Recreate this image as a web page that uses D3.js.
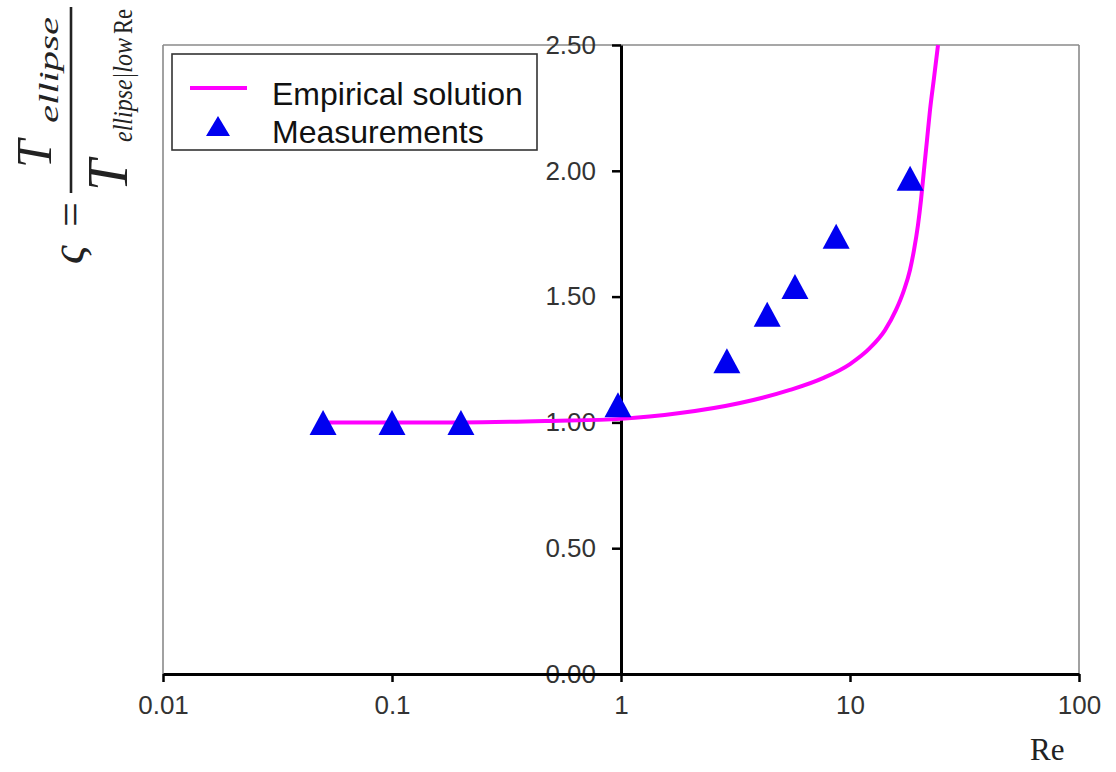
<!DOCTYPE html>
<html>
<head>
<meta charset="utf-8">
<script src="https://cdn.jsdelivr.net/npm/d3@7"></script>
<style>
  html, body { margin: 0; padding: 0; background: #fff; }
  svg { display: block; }
</style>
</head>
<body>
<svg id="chart" width="1116" height="772"></svg>
<script>
// Reynolds number ticks (log axis) and their labels
const xTickValues = [0.01, 0.1, 1, 10, 100];
const xTickLabels = ["0.01", "0.1", "1", "10", "100"];
// Normalised torque ticks
const yTickValues = [0, 0.5, 1, 1.5, 2, 2.5];
const yTickLabels = ["0.00", "0.50", "1.00", "1.50", "2.00", "2.50"];

// Empirical solution curve (Re, zeta)
const curveRe   = [0.05, 0.2, 0.5, 1, 1.81, 3.31, 5.47, 7.62, 10.0, 12.23, 14.22, 15.88, 17.21, 18.28, 19.03, 19.81, 20.42, 21.04, 21.69, 22.36, 23.27, 24.23];
const curveZeta = [1.00, 1.00, 1.006, 1.014, 1.037, 1.077, 1.129, 1.176, 1.232, 1.296, 1.367, 1.447, 1.526, 1.606, 1.685, 1.785, 1.884, 2.003, 2.122, 2.242, 2.369, 2.50];

// Measured points (Re, zeta)
const measRe   = [0.05, 0.1, 0.2, 0.97, 2.9, 4.35, 5.75, 8.7, 18.3];
const measZeta = [1.00, 1.00, 1.00, 1.07, 1.245, 1.43, 1.54, 1.74, 1.97];

const svg = d3.select("#chart");

const x = d3.scaleLog().domain([0.01, 100]).range([163, 1079]);
const y = d3.scaleLinear().domain([0, 2.5]).range([674, 45]);

// plot-area frame (gray)
const frame = svg.append("g").attr("stroke", "#8a8a8a").attr("stroke-width", 1.6).attr("fill", "none");
frame.append("line").attr("x1", x(0.01)).attr("x2", x(100)).attr("y1", y(2.5)).attr("y2", y(2.5));
frame.append("line").attr("x1", x(0.01)).attr("x2", x(0.01)).attr("y1", y(2.5)).attr("y2", y(0));
frame.append("line").attr("x1", x(100)).attr("x2", x(100)).attr("y1", y(2.5)).attr("y2", y(0));

// y axis crosses at Re = 1
const yAxis = svg.append("g")
  .attr("transform", `translate(${x(1)},0)`)
  .call(d3.axisLeft(y).tickValues(yTickValues)
    .tickFormat((d, i) => yTickLabels[i]).tickSize(9).tickSizeOuter(0).tickPadding(16));
yAxis.select(".domain").attr("stroke", "#000").attr("stroke-width", 3);
yAxis.selectAll(".tick line").attr("stroke", "#000").attr("stroke-width", 2.5);
yAxis.selectAll(".tick text")
  .attr("font-family", "'Liberation Sans', Arial, sans-serif")
  .attr("font-size", 26).attr("fill", "#333");

// x axis at zeta = 0
const xAxis = svg.append("g")
  .attr("transform", `translate(0,${y(0)})`)
  .call(d3.axisBottom(x).tickValues(xTickValues)
    .tickFormat((d, i) => xTickLabels[i]).tickSize(8).tickSizeOuter(0).tickPadding(14));
xAxis.select(".domain").attr("stroke", "#000").attr("stroke-width", 3);
xAxis.selectAll(".tick line").attr("stroke", "#000").attr("stroke-width", 2.5);
xAxis.selectAll(".tick text")
  .attr("font-family", "'Liberation Sans', Arial, sans-serif")
  .attr("font-size", 26).attr("fill", "#333");

// empirical solution
const curveData = curveRe.map((r, i) => [r, curveZeta[i]]);
const line = d3.line().x(d => x(d[0])).y(d => y(d[1])).curve(d3.curveMonotoneX);
svg.append("path")
  .attr("d", line(curveData))
  .attr("fill", "none").attr("stroke", "#ff00ff").attr("stroke-width", 4);

// measurement triangles
const triW = 27, triH = 25;
const triPath = (cx, cy) => `M${cx},${cy - triH / 2}L${cx + triW / 2},${cy + triH / 2}L${cx - triW / 2},${cy + triH / 2}Z`;
svg.append("g").selectAll("path")
  .data(measRe.map((r, i) => [r, measZeta[i]]))
  .join("path")
  .attr("d", d => triPath(x(d[0]), y(d[1])))
  .attr("fill", "#0000f0");

// legend
const lg = svg.append("g");
lg.append("rect").attr("x", 172).attr("y", 54).attr("width", 365).attr("height", 96)
  .attr("fill", "#fff").attr("stroke", "#333").attr("stroke-width", 1.6);
lg.append("line").attr("x1", 190).attr("x2", 247).attr("y1", 88).attr("y2", 88)
  .attr("stroke", "#ff00ff").attr("stroke-width", 4);
lg.append("path").attr("d", `M218,116L230,136L206,136Z`).attr("fill", "#0000f0");
lg.append("text").attr("x", 272).attr("y", 105).text("Empirical solution")
  .attr("font-family", "'Liberation Sans', Arial, sans-serif").attr("font-size", 32).attr("fill", "#111");
lg.append("text").attr("x", 272).attr("y", 143).text("Measurements")
  .attr("font-family", "'Liberation Sans', Arial, sans-serif").attr("font-size", 32).attr("fill", "#111");

// x axis title
svg.append("text").attr("x", 1030).attr("y", 760).text("Re")
  .attr("font-family", "'Liberation Serif', 'Times New Roman', serif").attr("font-size", 31).attr("fill", "#222");

// y axis title: zeta = T_ellipse / T_ellipse|low Re, rotated
const yl = svg.append("g").attr("transform", "translate(71,193) rotate(-90)")
  .attr("font-family", "'Liberation Serif', 'Times New Roman', serif").attr("fill", "#222");
yl.append("line").attr("x1", 0).attr("x2", 186).attr("y1", 0).attr("y2", 0)
  .attr("stroke", "#222").attr("stroke-width", 2.6);
// numerator
yl.append("text").attr("x", 25).attr("y", -20).attr("font-size", 50).attr("font-style", "italic").text("T");
yl.append("text").attr("x", 70).attr("y", -13).attr("font-size", 28).attr("font-style", "italic")
  .attr("textLength", 106).attr("lengthAdjust", "spacingAndGlyphs").text("ellipse");
// denominator
yl.append("text").attr("x", 2).attr("y", 56).attr("font-size", 56).attr("font-style", "italic").text("T");
yl.append("text").attr("x", 51).attr("y", 61).attr("font-size", 27).attr("font-style", "italic")
  .attr("textLength", 104).attr("lengthAdjust", "spacingAndGlyphs").text("ellipse|low");
yl.append("text").attr("x", 159).attr("y", 61).attr("font-size", 27)
  .attr("textLength", 25).attr("lengthAdjust", "spacingAndGlyphs").text("Re");
// zeta and equals sign
yl.append("text").attr("x", -71).attr("y", 12).attr("font-size", 46).attr("font-style", "italic").text("ς");
yl.append("text").attr("x", -34).attr("y", 14).attr("font-size", 44).text("=");
</script>
</body>
</html>
